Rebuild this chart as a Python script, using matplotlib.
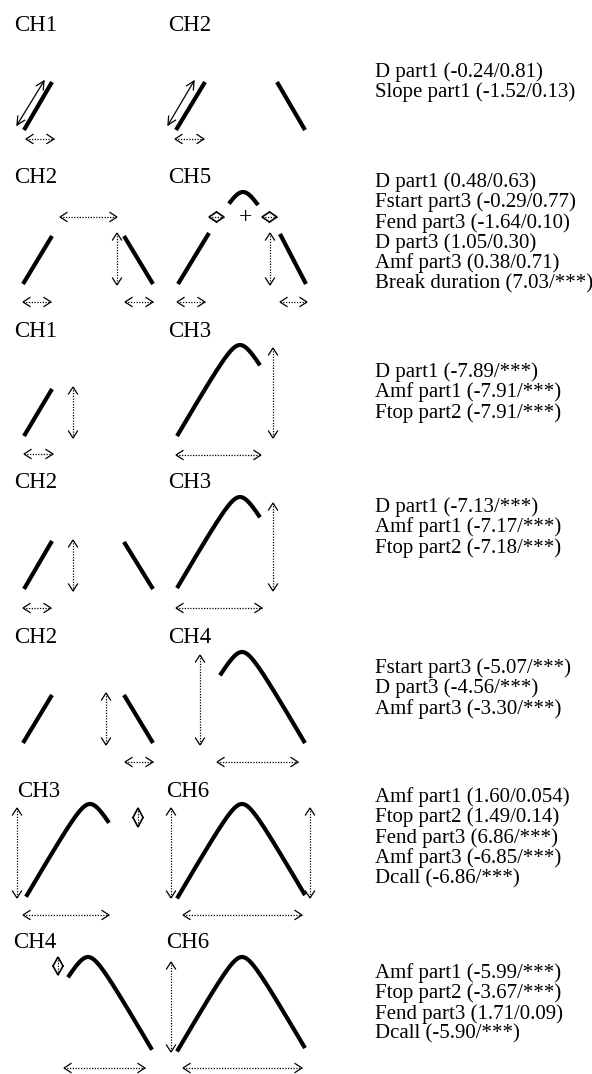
import numpy as np
import matplotlib.pyplot as plt

plt.rcParams['font.family'] = ['Liberation Serif', 'DejaVu Serif']

W, H = 592, 1074

# contour type labels: (text, x, baseline)
ch_labels = [
    ("CH1", 14, 31), ("CH2", 168, 31),
    ("CH2", 14, 183), ("CH5", 168, 183),
    ("CH1", 14, 337), ("CH3", 168, 337),
    ("CH2", 14, 488), ("CH3", 168, 488),
    ("CH2", 14, 643), ("CH4", 168, 643),
    ("CH3", 17, 797), ("CH6", 166, 797),
    ("CH4", 13, 948), ("CH6", 166, 948),
]

# statistics per comparison: (first baseline, lines)
stats_x = 375
line_step = 20.3
stats_rows = [
    (77, ["D part1 (-0.24/0.81)", "Slope part1 (-1.52/0.13)"]),
    (187, ["D part1 (0.48/0.63)", "Fstart part3 (-0.29/0.77)",
           "Fend part3 (-1.64/0.10)", "D part3 (1.05/0.30)",
           "Amf part3 (0.38/0.71)", "Break duration (7.03/***)"]),
    (377, ["D part1 (-7.89/***)", "Amf part1 (-7.91/***)",
           "Ftop part2 (-7.91/***)"]),
    (512, ["D part1 (-7.13/***)", "Amf part1 (-7.17/***)",
           "Ftop part2 (-7.18/***)"]),
    (673, ["Fstart part3 (-5.07/***)", "D part3 (-4.56/***)",
           "Amf part3 (-3.30/***)"]),
    (802, ["Amf part1 (1.60/0.054)", "Ftop part2 (1.49/0.14)",
           "Fend part3 (6.86/***)", "Amf part3 (-6.85/***)",
           "Dcall (-6.86/***)"]),
    (978, ["Amf part1 (-5.99/***)", "Ftop part2 (-3.67/***)",
           "Fend part3 (1.71/0.09)", "Dcall (-5.90/***)"]),
]

# straight call parts (x0, y0, x1, y1)
thick_lines = [
    (24, 130, 52, 82), (176, 130, 205, 82), (277, 82, 305, 130),
    (23, 284, 52, 236), (124, 236, 153, 284), (178, 284, 209, 233), (280, 234, 306, 284),
    (24, 436, 52, 389),
    (24, 589, 52, 541), (124, 542, 153, 589),
    (23, 743, 52, 695), (124, 695, 153, 743),
]

# humped call parts (x peak, y peak, x start, x end)
humps = [
    (243, 192, 229, 258),
    (240, 345, 177, 260),
    (240, 497, 177, 260),
    (242, 652, 220, 305),
    (90, 804, 26, 109), (242, 804, 177, 305),
    (88, 957, 68, 152), (242, 957, 177, 305),
]

# dotted double arrows (x0, y0, x1, y1)
dotted_arrows = [
    (26, 139, 54, 139), (175, 139, 204, 139),
    (60, 217, 117, 217), (117, 233, 117, 285), (270, 233, 270, 285),
    (23, 302, 51, 302), (125, 302, 153, 302), (177, 302, 205, 302), (280, 302, 307, 302),
    (73, 387, 73, 438), (273, 348, 273, 438), (24, 454, 53, 454), (176, 455, 261, 455),
    (73, 540, 73, 591), (273, 503, 273, 591), (23, 608, 51, 608), (176, 608, 262, 608),
    (106, 693, 106, 745), (200, 655, 200, 745), (125, 762, 153, 762), (217, 762, 298, 762),
    (17, 808, 17, 898), (171, 808, 171, 898), (310, 808, 310, 898),
    (23, 915, 109, 915), (183, 915, 302, 915),
    (171, 962, 171, 1052), (64, 1068, 145, 1068), (183, 1068, 302, 1068),
]

# solid thin double arrows (slope)
solid_arrows = [(17, 125, 44, 81), (168, 125, 194, 81)]

# tiny diamonds (x0, y0, x1, y1) = very short double arrows
diamonds = [(209, 217, 224, 217), (262, 217, 277, 217),
            (138, 808, 138, 827), (58, 957, 58, 975)]


def head(ax, px, py, ux, uy, L, w, lw=0.9):
    nx, ny = -uy, ux
    xs = [px - L * ux + w * nx, px, px - L * ux - w * nx]
    ys = [py - L * uy + w * ny, py, py - L * uy - w * ny]
    ax.plot(xs, ys, color='k', lw=lw, solid_joinstyle='miter')


def dbl_arrow(ax, x0, y0, x1, y1, dotted=True, L=7.0, w=4.5, lw=0.9):
    d = np.hypot(x1 - x0, y1 - y0)
    ux, uy = (x1 - x0) / d, (y1 - y0) / d
    if dotted:
        ax.plot([x0, x1], [y0, y1], color='k', lw=0.9, linestyle=(0, (1, 1.2)))
    else:
        ax.plot([x0, x1], [y0, y1], color='k', lw=0.9)
    head(ax, x1, y1, ux, uy, L, w, lw)
    head(ax, x0, y0, -ux, -uy, L, w, lw)


def hump(ax, xp, yp, x0, x1, s=1.72, r=11):
    x = np.linspace(x0, x1, 200)
    y = yp + s * (np.sqrt((x - xp) ** 2 + r ** 2) - r)
    ax.plot(x, y, color='k', lw=3.0, solid_capstyle='butt')


fig = plt.figure(figsize=(W / 100, H / 100), dpi=100)
ax = fig.add_axes([0, 0, 1, 1])
ax.set_xlim(0, W)
ax.set_ylim(H, 0)
ax.axis('off')

for txt, x, y in ch_labels:
    ax.text(x, y, txt, fontsize=16.5, va='baseline', ha='left')

for y0, lines in stats_rows:
    for i, txt in enumerate(lines):
        ax.text(stats_x, y0 + i * line_step, txt, fontsize=15, va='baseline', ha='left')

for x0, y0, x1, y1 in thick_lines:
    ax.plot([x0, x1], [y0, y1], color='k', lw=3.0, solid_capstyle='butt')

for xp, yp, x0, x1 in humps:
    hump(ax, xp, yp, x0, x1)

for a in dotted_arrows:
    dbl_arrow(ax, *a)

for a in solid_arrows:
    dbl_arrow(ax, *a, dotted=False, L=8, w=4)

for x0, y0, x1, y1 in diamonds:
    half = np.hypot(x1 - x0, y1 - y0) / 2
    dbl_arrow(ax, x0, y0, x1, y1, L=half, w=5, lw=1.2)

ax.text(245, 218, "+", fontsize=17, ha='center', va='center')

fig.savefig("out.png", dpi=100)
